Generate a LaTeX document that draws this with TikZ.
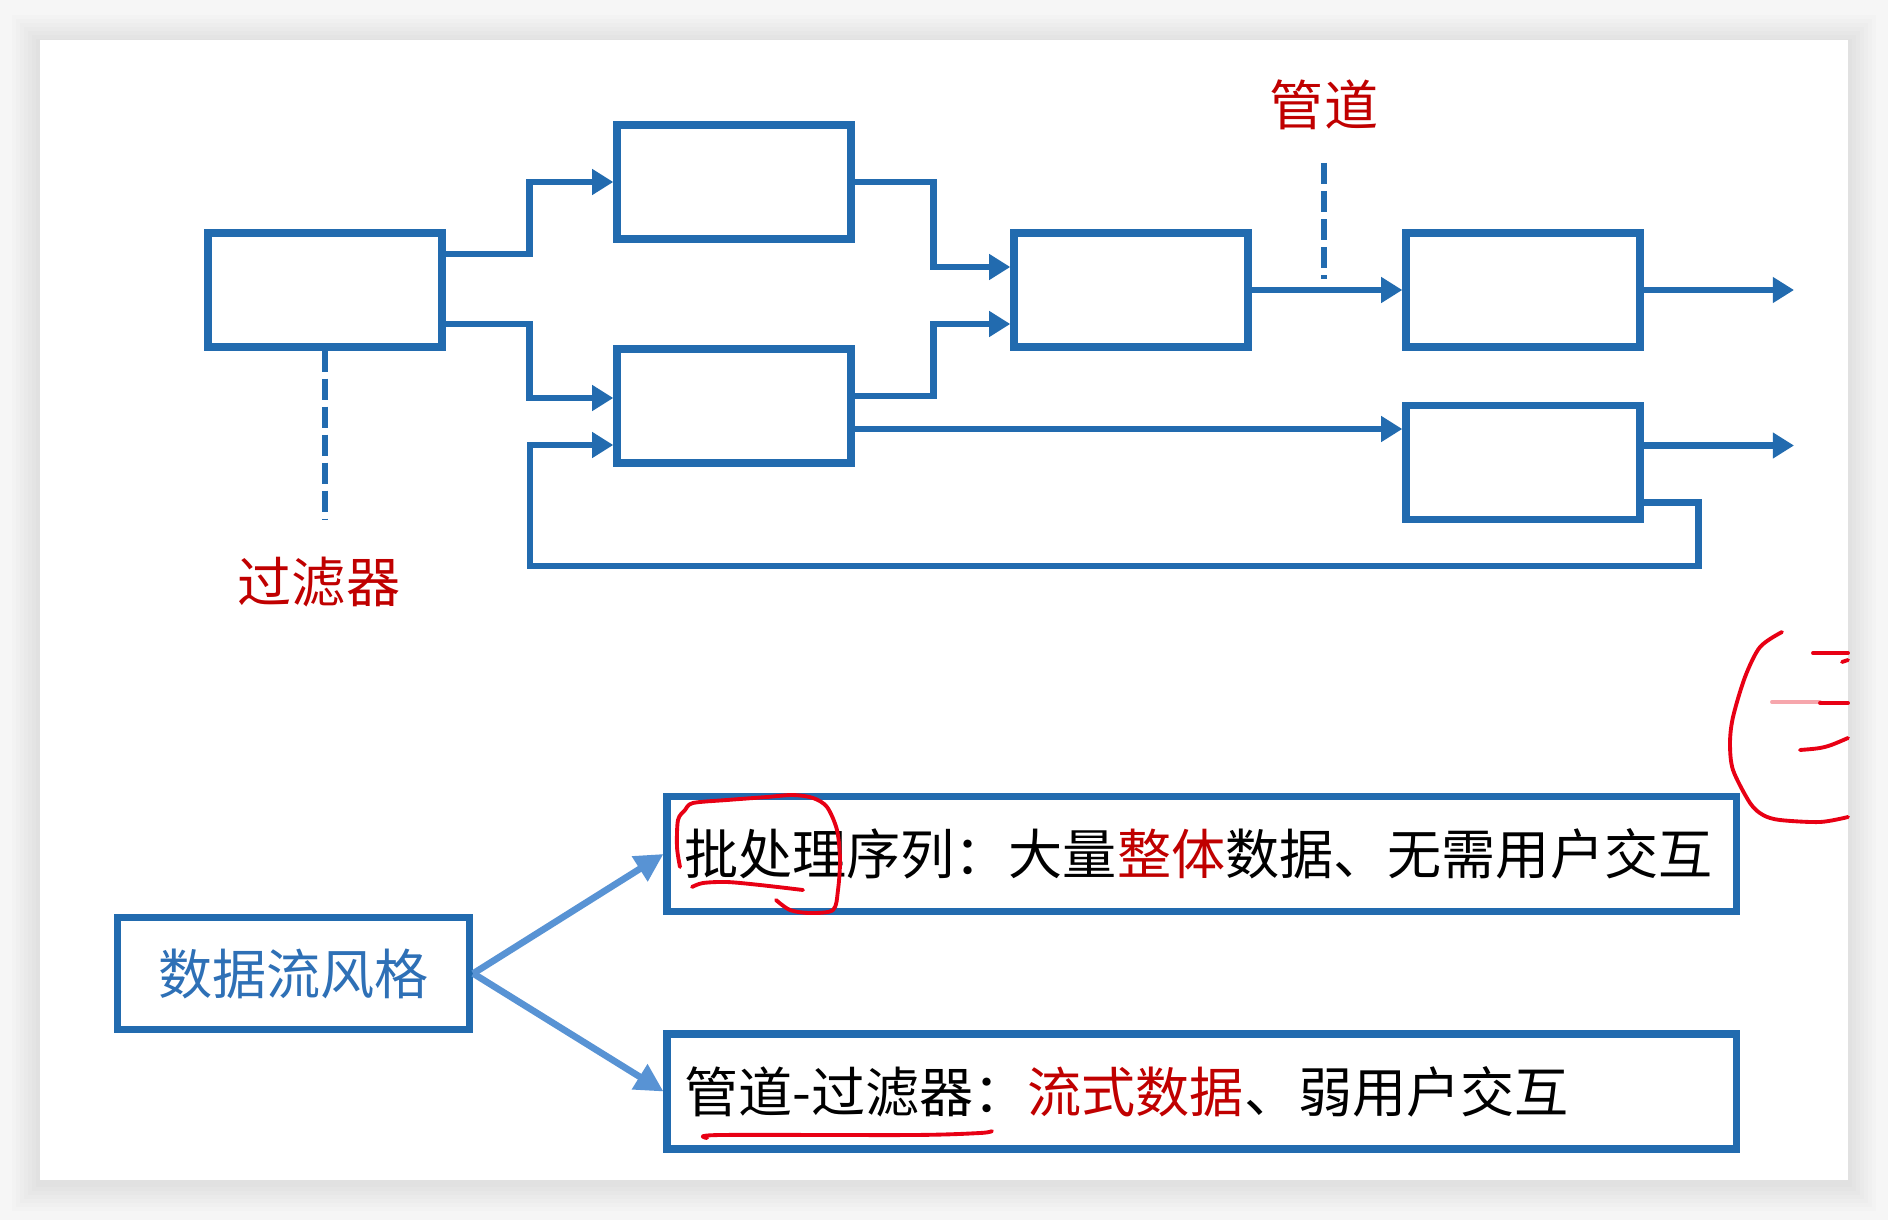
\documentclass[tikz,border=0pt]{standalone}
\usepackage{fontspec}
\setmainfont{Noto Sans CJK SC}
\usepackage{xcolor}
\usepackage{tikz}
\usetikzlibrary{arrows.meta, positioning, calc}

\definecolor{lineblue}{RGB}{34,107,175}
\definecolor{arrowblue}{RGB}{88,147,212}
\definecolor{textblue}{RGB}{46,112,182}
\definecolor{darkred}{RGB}{192,0,0}
\definecolor{penred}{RGB}{232,0,20}

\begin{document}
\begin{tikzpicture}[
    font=\fontsize{15.4pt}{18pt}\selectfont,
    stage/.style={rectangle, draw=lineblue, line width=2.1pt, minimum width=2.34cm, minimum height=1.14cm},
    flow/.style={-{Triangle[length=6pt,width=7pt]}, line width=1.9pt, color=lineblue},
    guide/.style={lineblue, line width=1.8pt, dash pattern=on 0.21cm off 0.07cm},
    redlabel/.style={text=darkred},
    item/.style={rectangle, draw=lineblue, line width=2pt, minimum height=1.15cm, text width=10.35cm, inner xsep=0.17cm, align=left},
    branch/.style={-{Triangle[length=8pt,width=8pt]}, line width=1.9pt, color=arrowblue},
    ink/.style={penred, line width=1.1pt, line cap=round, line join=round}
]
% page and card
\useasboundingbox (0,0) rectangle (18.88,12.20);
\fill[gray!7] (0,0) rectangle (18.88,12.20);
\foreach \s in {0.04,0.08,...,0.32}
  \fill[black, opacity=0.012] ({0.40-\s},{0.37-\s}) rectangle ({18.48+\s},{11.77+\s});
\fill[white] (0.40,0.40) rectangle (18.48,11.80);

% filters
\node[stage] (src) at (3.25,9.30) {};
\node[stage] (upr) at (7.34,10.38) {};
\node[stage] (lwr) at (7.34,8.14) {};
\node[stage] (mrg) at (11.31,9.30) {};
\node[stage] (snkA) at (15.23,9.30) {};
\node[stage] (snkB) at (15.23,7.575) {};
\coordinate (outA) at (17.94,9.30);
\coordinate (outB) at (17.94,7.745);

% pipes
\draw[flow] ([yshift=3.6mm]src.east) -- ++(0.84,0) |- (upr.west);
\draw[flow] ([yshift=-3.4mm]src.east) -- ++(0.84,0) |- ([yshift=0.8mm]lwr.west);
\draw[flow] (upr.east) -- ++(0.79,0) |- ([yshift=2.3mm]mrg.west);
\draw[flow] ([yshift=1mm]lwr.east) -- ++(0.79,0) |- ([yshift=-3.4mm]mrg.west);
\draw[flow] (mrg.east) -- (snkA.west);
\draw[flow] (snkA.east) -- (outA);
\draw[flow] ([yshift=-2.3mm]lwr.east) -- ([yshift=-2.3mm]lwr.east -| snkB.west);
\draw[flow] (snkB.east |- outB) -- (outB);
\draw[flow] ([yshift=-4mm]snkB.east) -- ++(0.55,0) |- (5.30,6.54) |- ([yshift=-3.9mm]lwr.west);

% labels
\node[redlabel] (filterLbl) at (3.19,6.38) {过滤器};
\node[redlabel] (pipeLbl) at (13.24,11.15) {管道};
\coordinate (filterEnd) at (3.25,7.00);
\coordinate (pipeTop) at (13.24,10.57);
\coordinate (pipeEnd) at (13.24,9.41);
\draw[guide] (src.south) -- (filterEnd);
\draw[guide] (pipeTop) -- (pipeEnd);

% styles
\node[rectangle, draw=lineblue, line width=2.1pt, minimum width=3.52cm, minimum height=1.12cm, text=textblue] (dfs) at (2.935,2.465) {数据流风格};
\node[item] (batch) at (12.015,3.66) {批处理序列：大量\textcolor{darkred}{整体}数据、无需用户交互};
\node[item] (pf) at (12.015,1.285) {管道-过滤器：\textcolor{darkred}{流式数据}、弱用户交互};
\draw[branch] (dfs.east) -- (batch.west);
\draw[branch] (dfs.east) -- (pf.west);

% pen marks
\draw[ink] plot[smooth] coordinates {(6.80,3.53) (6.77,3.73) (6.78,4.00) (6.85,4.10) (6.93,4.17) (7.27,4.20) (7.67,4.23) (7.93,4.25) (8.13,4.22) (8.27,4.13) (8.37,3.90) (8.40,3.60) (8.38,3.30) (8.33,3.10) (8.10,3.07) (7.90,3.10) (7.76,3.20)};
\draw[ink] plot[smooth] coordinates {(6.92,3.33) (7.03,3.37) (7.27,3.38) (7.60,3.35) (8.03,3.30)};
\draw[ink] plot[smooth] coordinates {(7.07,0.82) (7.20,0.85) (9.13,0.85) (9.80,0.87) (9.92,0.89)};
\draw[ink] plot[smooth] coordinates {(17.82,5.88) (17.60,5.73) (17.45,5.43) (17.33,5.03) (17.30,4.77) (17.33,4.50) (17.50,4.17) (17.63,4.05) (17.80,4.00) (18.20,3.98) (18.48,4.03)};
\draw[ink] (18.13,5.67) -- (18.48,5.67);
\draw[ink] (18.42,5.58) -- (18.48,5.60);
\draw[ink, opacity=0.35] (17.72,5.18) -- (18.20,5.18);
\draw[ink] (18.20,5.17) -- (18.48,5.17);
\draw[ink] (18.00,4.70) .. controls (18.25,4.72) .. (18.48,4.82);
\end{tikzpicture}
\end{document}
